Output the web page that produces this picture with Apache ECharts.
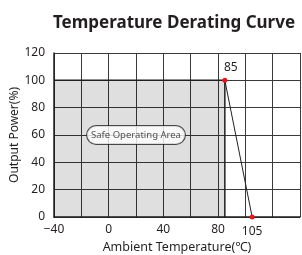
<!DOCTYPE html>
<html>
<head>
<meta charset="utf-8">
<script src="https://cdn.jsdelivr.net/npm/echarts@6/dist/echarts.min.js"></script>
<style>
    html, body { margin: 0; padding: 0; background: #fff; }
    #chart { width: 302px; height: 255px; }
</style>
</head>
<body>
<div id="chart"></div>
<script>
// 安全工作区 (Safe Operating Area)
const safeTemps = [-40, 85, 85];
const safePower = [100, 100, 0];
// 降额曲线
const curveTemps = [85, 105];
const curvePower = [100, 0];
const curveLabels = ['85', '105'];
// 坐标轴刻度标签
const xTickLabels = [-40, 0, 40, 80];
const areaLabelPos = [20, 60];

(function () {
    const font = 'Noto Sans';
    const myChart = echarts.init(document.querySelector('#chart'));

    // 每个点的标签位置
    const labelPos = [
        { 'position': 'top', 'distance': 4, 'offset': [6, 0] },
        { 'position': 'bottom', 'distance': 6, 'offset': [0, 0] }
    ];

    myChart.setOption({
        'animation': false,
        'textStyle': { 'fontFamily': font },
        'title': {
            'text': 'Temperature Derating Curve',
            'left': 48,
            'top': 10,
            'textStyle': {
                'color': '#231f20',
                'fontSize': 17,
                'fontWeight': 'bold',
                'fontFamily': font
            }
        },
        'grid': {
            'left': 54,
            'right': 2,
            'top': 53,
            'bottom': 38,
            'containLabel': false,
            'outerBoundsMode': 'none'
        },
        'xAxis': {
            'type': 'value',
            'min': -40,
            'max': 140,
            'interval': 20,
            'name': 'Ambient Temperature(℃)',
            'nameLocation': 'middle',
            'nameGap': 24,
            'nameMoveOverlap': false,
            'nameTextStyle': { 'color': '#231f20', 'fontSize': 12.5 },
            'axisLine': { 'onZero': false, 'lineStyle': { 'color': '#231f20', 'width': 1.5 } },
            'axisTick': { 'show': false },
            'axisLabel': {
                'color': '#231f20',
                'fontSize': 12,
                'margin': 7,
                'formatter': (v) => xTickLabels.indexOf(v) >= 0 ? String(v).replace('-', '−') : ''
            },
            'splitLine': { 'show': true, 'lineStyle': { 'color': '#3a3a3a', 'width': 1 } }
        },
        'yAxis': {
            'type': 'value',
            'min': 0,
            'max': 120,
            'interval': 20,
            'name': 'Output Power(%)',
            'nameLocation': 'middle',
            'nameGap': 33,
            'nameMoveOverlap': false,
            'nameTextStyle': { 'color': '#231f20', 'fontSize': 12 },
            'axisLine': { 'show': true, 'onZero': false, 'lineStyle': { 'color': '#231f20', 'width': 1.5 } },
            'axisTick': { 'show': false },
            'axisLabel': { 'color': '#231f20', 'fontSize': 12, 'margin': 9 },
            'splitLine': { 'show': true, 'lineStyle': { 'color': '#3a3a3a', 'width': 1 } }
        },
        'series': [{
            // 灰色区域
            'type': 'line',
            'data': safeTemps.map((t, i) => [t, safePower[i]]),
            'symbol': 'none',
            'lineStyle': { 'color': '#231f20', 'width': 1.5 },
            'areaStyle': { 'color': 'rgba(0,0,0,0.18)', 'origin': 'start' },
            'z': 3
        }, {
            'type': 'scatter',
            'data': [areaLabelPos],
            'symbolSize': 0,
            'label': {
                'show': true,
                'position': 'inside',
                'formatter': 'Safe Operating Area',
                'color': '#231f20',
                'fontSize': 9.5,
                'backgroundColor': '#fff',
                'borderColor': '#231f20',
                'borderWidth': 1,
                'borderRadius': 10,
                'padding': [4, 4]
            },
            'z': 5
        }, {
            // 降额曲线
            'type': 'line',
            'data': curveTemps.map((t, i) => ({
                'value': [t, curvePower[i]],
                'label': labelPos[i]
            })),
            'symbol': 'circle',
            'symbolSize': 5,
            'itemStyle': { 'color': '#e8141c' },
            'lineStyle': { 'color': '#231f20', 'width': 1 },
            'label': {
                'show': true,
                'color': '#231f20',
                'fontSize': 12,
                'formatter': (p) => curveLabels[p.dataIndex]
            },
            'clip': false,
            'z': 6
        }]
    });
})();
</script>
</body>
</html>
